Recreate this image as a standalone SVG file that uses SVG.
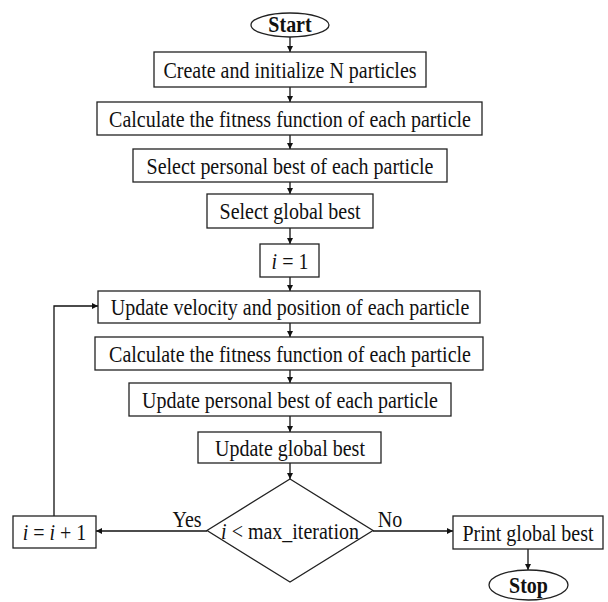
<svg xmlns="http://www.w3.org/2000/svg" width="608" height="602" viewBox="0 0 608 602">
<defs>
<marker id="ah" viewBox="0 0 10 10" refX="10" refY="5" markerWidth="6" markerHeight="6" markerUnits="userSpaceOnUse" orient="auto">
<path d="M0,0 L10,5 L0,10 z" fill="#111"/>
</marker>
<style>
.box{fill:#fff;stroke:#222;stroke-width:1.3}
.t{font-family:"Liberation Serif","Times New Roman",serif;font-size:20px;fill:#111;text-anchor:middle}
.b{font-weight:bold}
.c{fill:none;stroke:#111;stroke-width:1.3;marker-end:url(#ah)}
.l{fill:none;stroke:#111;stroke-width:1.3}
</style>
</defs>
<rect width="608" height="602" fill="#fff"/>
<g id="connectors">
<line class="c" x1="290" y1="37" x2="290" y2="52"/>
<line class="c" x1="290" y1="87" x2="290" y2="102"/>
<line class="c" x1="290" y1="135" x2="290" y2="149"/>
<line class="c" x1="290" y1="182" x2="290" y2="194"/>
<line class="c" x1="290" y1="228" x2="290" y2="244"/>
<line class="c" x1="290" y1="277" x2="290" y2="291"/>
<line class="c" x1="290" y1="323" x2="290" y2="337"/>
<line class="c" x1="290" y1="370" x2="290" y2="383"/>
<line class="c" x1="290" y1="416" x2="290" y2="432"/>
<line class="c" x1="290" y1="463" x2="290" y2="479"/>
<line class="c" x1="207" y1="531" x2="96" y2="531"/>
<line class="c" x1="373" y1="531" x2="453" y2="531"/>
<line class="c" x1="528" y1="549" x2="528" y2="570"/>
<polyline class="c" points="54,516 54,306 98,306"/>
<text class="t" transform="matrix(1,0,0,1.2,187,527)">Yes</text>
<text class="t" transform="matrix(1,0,0,1.2,390,527)">No</text>
</g>
<g id="start">
<ellipse class="box" cx="290" cy="25" rx="39" ry="12"/>
<text class="t b" transform="matrix(1,0,0,1.2,290,32)">Start</text>
</g>
<g id="create">
<rect class="box" x="154" y="52" width="272" height="35"/>
<text class="t" transform="matrix(1,0,0,1.2,290,77.5)">Create and initialize N particles</text>
</g>
<g id="fitness1">
<rect class="box" x="97" y="102" width="385" height="33"/>
<text class="t" transform="matrix(1,0,0,1.2,290,126.5)">Calculate the fitness function of each particle</text>
</g>
<g id="pbest1">
<rect class="box" x="133" y="149" width="314" height="33"/>
<text class="t" transform="matrix(1,0,0,1.2,290,173.5)">Select personal best of each particle</text>
</g>
<g id="gbest1">
<rect class="box" x="207" y="194" width="166" height="34"/>
<text class="t" transform="matrix(1,0,0,1.2,290,219)">Select global best</text>
</g>
<g id="init_i">
<rect class="box" x="260" y="244" width="59" height="33"/>
<text class="t" transform="matrix(1,0,0,1.2,290,268.5)"><tspan font-style="italic">i</tspan> = 1</text>
</g>
<g id="update_vel">
<rect class="box" x="98" y="291" width="382" height="32"/>
<text class="t" transform="matrix(1,0,0,1.2,290,315)">Update velocity and position of each particle</text>
</g>
<g id="fitness2">
<rect class="box" x="95" y="337" width="388" height="33"/>
<text class="t" transform="matrix(1,0,0,1.2,290,361.5)">Calculate the fitness function of each particle</text>
</g>
<g id="pbest2">
<rect class="box" x="129" y="383" width="322" height="33"/>
<text class="t" transform="matrix(1,0,0,1.2,290,407.5)">Update personal best of each particle</text>
</g>
<g id="gbest2">
<rect class="box" x="198" y="432" width="183" height="31"/>
<text class="t" transform="matrix(1,0,0,1.2,290,455.5)">Update global best</text>
</g>
<g id="decision">
<polygon class="box" points="290,479 373,530.5 290,582 207,530.5"/>
<text class="t" transform="matrix(1,0,0,1.2,290,538.5)"><tspan font-style="italic">i</tspan> &lt; max_iteration</text>
</g>
<g id="increment">
<rect class="box" x="13" y="516" width="83" height="32"/>
<text class="t" transform="matrix(1,0,0,1.2,54.5,540)"><tspan font-style="italic">i</tspan> = <tspan font-style="italic">i</tspan> + 1</text>
</g>
<g id="print">
<rect class="box" x="453" y="516" width="150" height="33"/>
<text class="t" transform="matrix(1,0,0,1.2,528,540.5)">Print global best</text>
</g>
<g id="stop">
<ellipse class="box" cx="528.5" cy="585" rx="39.5" ry="15"/>
<text class="t b" transform="matrix(1,0,0,1.2,528.5,592.5)">Stop</text>
</g>
</svg>
